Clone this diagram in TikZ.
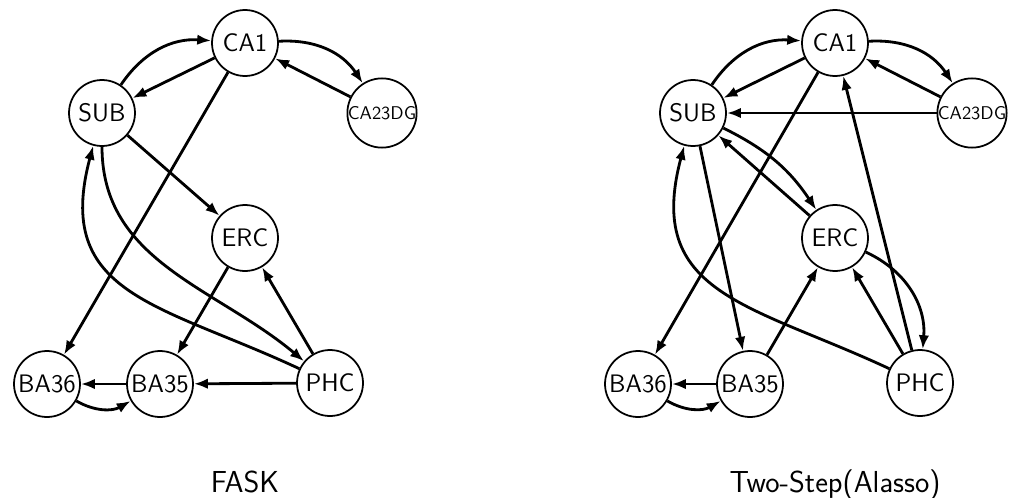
\documentclass[tikz,border=0pt]{standalone}
\usetikzlibrary{arrows.meta}
\begin{document}
\begin{tikzpicture}[x=0.02cm, y=0.02cm,
    region/.style={draw, circle, line width=1pt, minimum size=1.32cm, inner sep=1pt, font=\sffamily\Large},
    small region/.style={region, inner sep=0pt, font=\sffamily\fontsize{10.5}{12}\selectfont},
    edge/.style={-{Latex[length=2.8mm,width=2.1mm]}, line width=1.6pt}]
    \useasboundingbox (0,0) rectangle (1021,-497);

    % Define the positions of the titles
    \coordinate (faskPos) at (245,-492);
    \coordinate (twostepPos) at (835,-492);

    % Draw the FASK regions
    \node[region] (fCA1) at (245,-43) {CA1};
    \node[region] (fSUB) at (102,-113) {SUB};
    \node[small region] (fCA23DG) at (382,-113) {CA23DG};
    \node[region] (fERC) at (245,-238) {ERC};
    \node[region] (fBA36) at (47,-384) {BA36};
    \node[region] (fBA35) at (160,-384) {BA35};
    \node[region] (fPHC) at (330,-383) {PHC};

    % Draw the FASK edges
    \draw[edge] (fSUB) to[bend left=30] (fCA1);
    \draw[edge] (fCA1) -- (fSUB);
    \draw[edge] (fCA1) to[bend left=30] (fCA23DG);
    \draw[edge] (fCA23DG) -- (fCA1);
    \draw[edge] (fCA1) -- (fBA36);
    \draw[edge] (fSUB) -- (fERC);
    \draw[edge] (fSUB) to[out=-90, in=140] (fPHC);
    \draw[edge] (fPHC) to[out=155, in=255, looseness=1.3] (fSUB);
    \draw[edge] (fERC) -- (fBA35);
    \draw[edge] (fPHC) -- (fERC);
    \draw[edge] (fPHC) -- (fBA35);
    \draw[edge] (fBA35) -- (fBA36);
    \draw[edge] (fBA36) to[bend right=30] (fBA35);

    % Draw the Two-Step regions
    \node[region] (tCA1) at (835,-43) {CA1};
    \node[region] (tSUB) at (693,-113) {SUB};
    \node[small region] (tCA23DG) at (972,-113) {CA23DG};
    \node[region] (tERC) at (835,-238) {ERC};
    \node[region] (tBA36) at (638,-384) {BA36};
    \node[region] (tBA35) at (750,-384) {BA35};
    \node[region] (tPHC) at (920,-383) {PHC};

    % Draw the Two-Step edges
    \draw[edge] (tSUB) to[bend left=30] (tCA1);
    \draw[edge] (tCA1) -- (tSUB);
    \draw[edge] (tCA1) to[bend left=30] (tCA23DG);
    \draw[edge] (tCA23DG) -- (tCA1);
    \draw[edge] (tCA23DG) -- (tSUB);
    \draw[edge] (tCA1) -- (tBA36);
    \draw[edge] (tSUB) to[bend left=15] (tERC);
    \draw[edge] (tERC) -- (tSUB);
    \draw[edge] (tSUB) -- (tBA35);
    \draw[edge] (tPHC) to[out=155, in=255, looseness=1.3] (tSUB);
    \draw[edge] (tBA35) -- (tERC);
    \draw[edge] (tPHC) -- (tERC);
    \draw[edge] (tPHC) -- (tCA1);
    \draw[edge] (tERC) to[bend left=35] (tPHC);
    \draw[edge] (tBA35) -- (tBA36);
    \draw[edge] (tBA36) to[bend right=30] (tBA35);

    % Draw the titles
    \node[anchor=base, font=\sffamily\LARGE] (fask) at (faskPos) {FASK};
    \node[anchor=base, font=\sffamily\LARGE] (twostep) at (twostepPos) {Two-Step(Alasso)};
\end{tikzpicture}
\end{document}
